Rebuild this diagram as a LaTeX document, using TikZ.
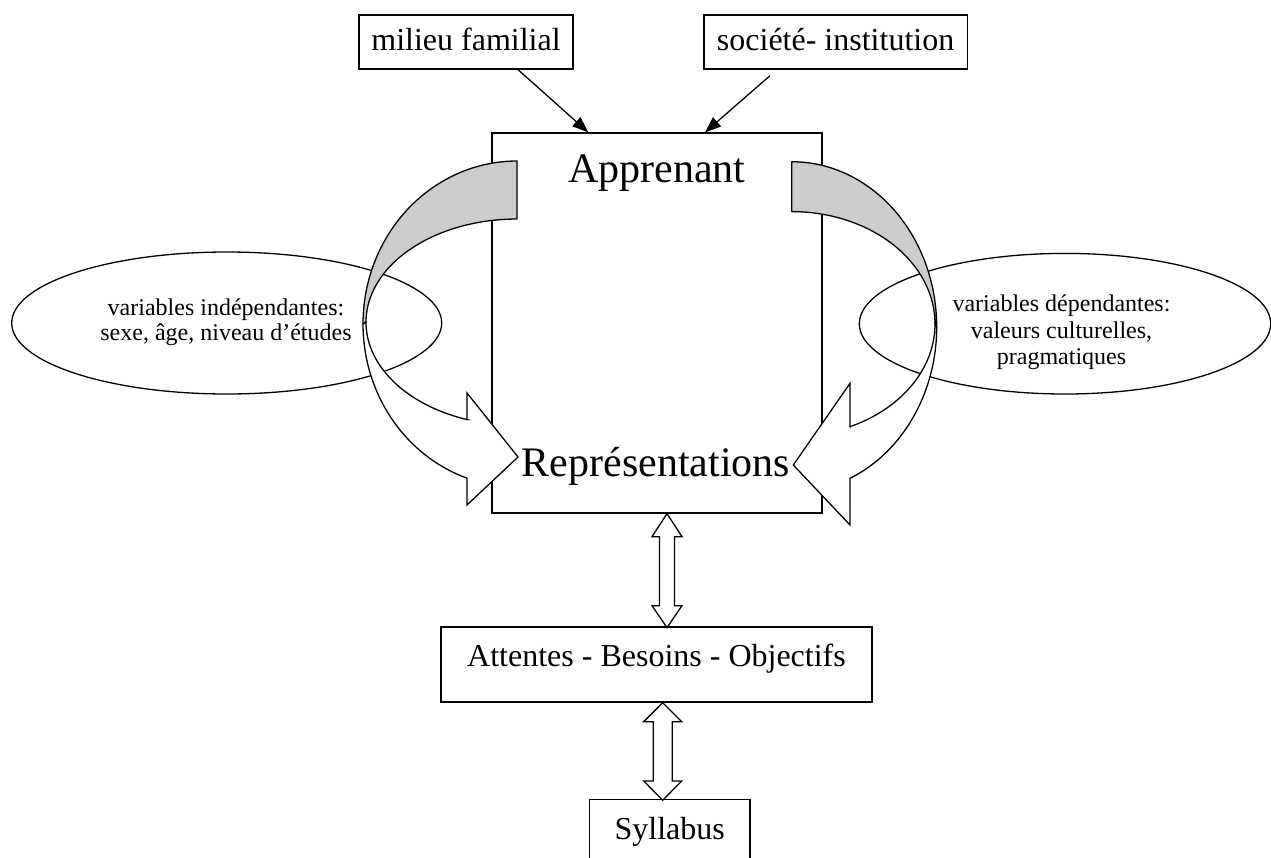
\documentclass[tikz,border=0pt]{standalone}
\usepackage{fontspec}
\setmainfont{Liberation Serif}
\usetikzlibrary{arrows.meta,shapes.geometric}
\begin{document}
\begin{tikzpicture}[x=1pt,y=-1pt,
  line width=1.3pt,
  box/.style={draw, rectangle, inner sep=0pt, font=\fontsize{32}{36}\selectfont},
  ell/.style={draw, ellipse, inner sep=0pt},
  small/.style={font=\fontsize{24}{26}\selectfont, anchor=base, inner sep=0pt},
  big/.style={font=\fontsize{42}{46}\selectfont, anchor=base, inner sep=0pt},
  band/.style={draw, fill=black!20, line join=round},
  front/.style={draw, fill=white, line join=miter},
  block/.style={draw, fill=white, line join=miter},
  ptr/.style={-{Triangle[length=16pt,width=12pt]}}
]
\useasboundingbox (0,0) rectangle (1271,857);

% boxes
\node[box, minimum width=214pt, minimum height=54pt, text height=22pt, text depth=6pt] (milieu) at (466,42) {milieu familial};
\node[box, anchor=west, inner xsep=13pt, minimum height=54pt, text height=22pt, text depth=6pt] (soc) at (703.3,42) {société- institution};
\node[draw, minimum width=330pt, minimum height=380pt, inner sep=0pt] (main) at (657,323) {};
\node[box, minimum width=431pt, minimum height=75pt, text height=22pt, text depth=19pt] (attentes) at (656.5,664.5) {Attentes - Besoins - Objectifs};
\node[box, minimum width=160.7pt, minimum height=70.7pt, text height=22pt, text depth=12.8pt] (syll) at (669.7,834.7) {Syllabus};

% ellipses
\node[ell, minimum width=430pt, minimum height=142pt] (ellL) at (226.7,323) {};
\node[ell, minimum width=411.4pt, minimum height=140.6pt] (ellR) at (1065,323.7) {};

% top arrows
\draw[ptr] ([xshift=52pt]milieu.south) -- ([xshift=-68.7pt]main.north);
\draw[ptr] ([xshift=66.7pt,yshift=-6pt]soc.south west) -- ([xshift=48pt]main.north);

% left curved arrow
\draw[band] plot[domain=-90:-180, samples=50, variable=\t] ({517+154*cos(\t)},{324+163*sin(\t)})
  -- plot[domain=-180:-90, samples=50, variable=\t] ({517+151*cos(\t)},{322.2+103.2*sin(\t)}) -- cycle;
\draw[front] plot[domain=180:108.95, samples=50, variable=\t] ({517+154*cos(\t)},{324+163*sin(\t)})
  -- (467,505) -- (518,457) -- (467,393) -- (467,419.6)
  -- plot[domain=109.3:180, samples=50, variable=\t] ({517+151*cos(\t)},{322.2+103.2*sin(\t)}) -- cycle;

% right curved arrow
\draw[band] plot[domain=-90:0, samples=50, variable=\t] ({791.7+145*cos(\t)},{327+165.3*sin(\t)})
  -- plot[domain=0:-90, samples=50, variable=\t] ({791.7+143.3*cos(\t)},{324+112.4*sin(\t)}) -- cycle;
\draw[front] plot[domain=0:66.3, samples=50, variable=\t] ({791.7+145*cos(\t)},{327+165.3*sin(\t)})
  -- (850,525) -- (793.3,465) -- (850,383.3) -- (850,426.7)
  -- plot[domain=66:0, samples=50, variable=\t] ({791.7+143.3*cos(\t)},{324+112.4*sin(\t)}) -- cycle;

% block double arrows
\draw[block] ([xshift=10pt]main.south) -- ++(15,23) -- ++(-7.5,0) -- ++(0,69) -- ++(7.5,0)
  -- ++(-15,22) -- ++(-15,-22) -- ++(7.5,0) -- ++(0,-69) -- ++(-7.5,0) -- cycle;
\draw[block] ([xshift=6.2pt]attentes.south) -- ++(19,19) -- ++(-9.5,0) -- ++(0,59.3) -- ++(9.5,0)
  -- ++(-19,19.3) -- ++(-19,-19.3) -- ++(9.5,0) -- ++(0,-59.3) -- ++(-9.5,0) -- cycle;

% texts
\node[big] (appr) at (656.7,182.7) {Apprenant};
\node[big] (repr) at (656,476.7) {Représentations};
\node[small] (l1) at (226,315) {variables indépendantes:};
\node[small] (l2) at (226,340) {sexe, âge, niveau d’études};
\node[small] (r1) at (1061.5,311.7) {variables dépendantes:};
\node[small] (r2) at (1061.5,338) {valeurs culturelles,};
\node[small] (r3) at (1061.5,364) {pragmatiques};
\end{tikzpicture}
\end{document}
